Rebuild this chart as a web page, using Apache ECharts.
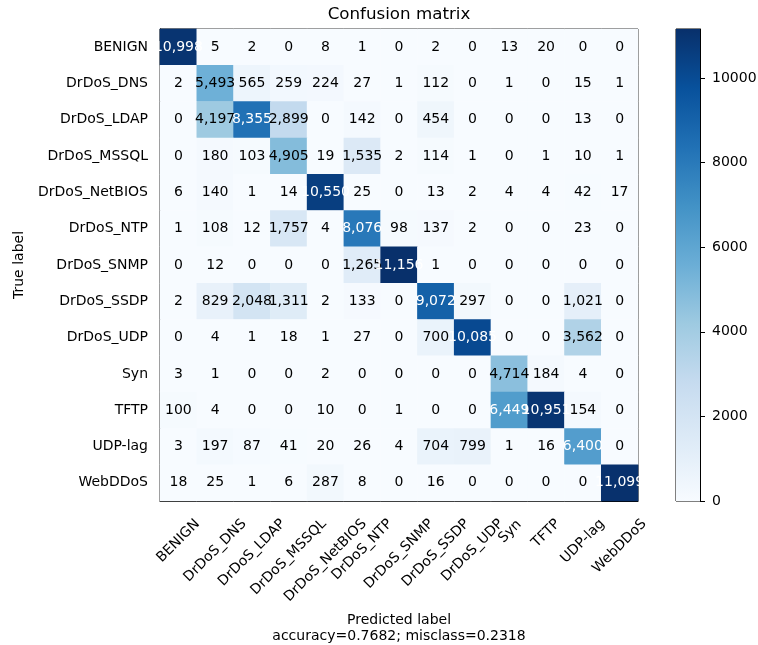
<!DOCTYPE html>
<html>
<head>
<meta charset="utf-8">
<script src="https://cdn.jsdelivr.net/npm/echarts@6.0.0/dist/echarts.min.js"></script>
<style>
    html, body {margin: 0; padding: 0; background: #fff;}
    #main {width: 758px; height: 645px;}
</style>
</head>
<body>
<div id="main"></div>
<script>
// class names (rows = true label, cols = predicted label)
var labels = ['BENIGN', 'DrDoS_DNS', 'DrDoS_LDAP', 'DrDoS_MSSQL', 'DrDoS_NetBIOS', 'DrDoS_NTP',
    'DrDoS_SNMP', 'DrDoS_SSDP', 'DrDoS_UDP', 'Syn', 'TFTP', 'UDP-lag', 'WebDDoS'];

// confusion matrix, one row per true label
var cm = [
    [10998, 5, 2, 0, 8, 1, 0, 2, 0, 13, 20, 0, 0],
    [2, 5493, 565, 259, 224, 27, 1, 112, 0, 1, 0, 15, 1],
    [0, 4197, 8355, 2899, 0, 142, 0, 454, 0, 0, 0, 13, 0],
    [0, 180, 103, 4905, 19, 1535, 2, 114, 1, 0, 1, 10, 1],
    [6, 140, 1, 14, 10550, 25, 0, 13, 2, 4, 4, 42, 17],
    [1, 108, 12, 1757, 4, 8076, 98, 137, 2, 0, 0, 23, 0],
    [0, 12, 0, 0, 0, 1265, 11156, 1, 0, 0, 0, 0, 0],
    [2, 829, 2048, 1311, 2, 133, 0, 9072, 297, 0, 0, 1021, 0],
    [0, 4, 1, 18, 1, 27, 0, 700, 10085, 0, 0, 3562, 0],
    [3, 1, 0, 0, 2, 0, 0, 0, 0, 4714, 184, 4, 0],
    [100, 4, 0, 0, 10, 0, 1, 0, 0, 6449, 10951, 154, 0],
    [3, 197, 87, 41, 20, 26, 4, 704, 799, 1, 16, 6400, 0],
    [18, 25, 1, 6, 287, 8, 0, 16, 0, 0, 0, 0, 11099]
];

var colorbarTicks = [0, 2000, 4000, 6000, 8000, 10000];
var accuracy = 0.7682;
var misclass = 0.2318;

// matplotlib Blues
var blues = ['#f7fbff', '#deebf7', '#c6dbef', '#9ecae1', '#6baed6', '#4292c6', '#2171b5', '#08519c', '#08306b'];
var font = 'DejaVu Sans';

var plotLeft = 160, plotTop = 29, plotW = 478, plotH = 472;

var vmax = 0;
for (var i = 0; i < cm.length; i++) {
    for (var j = 0; j < cm[i].length; j++) {
        if (cm[i][j] > vmax) vmax = cm[i][j];
    }
}
var thresh = vmax / 2;

function fmt(n) {
    return String(n).replace(/\B(?=(\d{3})+(?!\d))/g, ',');
}

function textWidth(s, size) {
    var ctx = document.createElement('canvas').getContext('2d');
    ctx.font = size + 'px "' + font + '"';
    return ctx.measureText(s).width;
}

// heatmap cells
var cells = [];
for (var r = 0; r < cm.length; r++) {
    for (var c = 0; c < cm[r].length; c++) {
        cells.push({
            value: [c, r, cm[r][c]],
            label: {color: cm[r][c] > thresh ? '#fff' : '#000'}
        });
    }
}

// x labels: rotated 45deg, bbox centred under the tick like matplotlib
// (anchor = axis + M, text shifted by padding so its centre lands at axis + P + H/2)
var P = 15, M = 20, lh = 16;
var xData = labels.map(function (name) {
    var w = textWidth(name, 14);
    var H = (w + lh) * 0.7071;
    var s = P + H / 2 - M;
    var pr = 1.4142 * s;
    var pt = Math.max(0, 0.7071 * s - lh / 2);
    return {
        value: name,
        textStyle: {align: 'center', verticalAlign: 'top', lineHeight: lh, padding: [pt, pr, 0, 0]}
    };
});

var title = 'Confusion matrix';
var titleW = textWidth(title, 16.7);

var chart = echarts.init(document.getElementById('main'));
var option = {
    animation: false,
    backgroundColor: '#fff',
    title: {
        text: title,
        left: plotLeft + plotW / 2 - titleW / 2,
        top: 6,
        padding: 0,
        textStyle: {fontFamily: font, fontSize: 16.7, fontWeight: 'normal', color: '#000'}
    },
    grid: [{
        left: plotLeft, top: plotTop, width: plotW, height: plotH,
        containLabel: false, outerBoundsMode: 'none',
        show: true, borderColor: '#000', borderWidth: 1, backgroundColor: 'transparent'
    }, {
        left: 676, top: plotTop, width: 24, height: plotH,
        containLabel: false, outerBoundsMode: 'none',
        show: true, borderColor: '#000', borderWidth: 1, backgroundColor: 'transparent'
    }],
    xAxis: [{
        gridIndex: 0,
        type: 'category',
        data: xData,
        position: 'bottom',
        name: 'Predicted label\naccuracy=' + accuracy.toFixed(4) + '; misclass=' + misclass.toFixed(4),
        nameLocation: 'middle',
        nameGap: 107,
        nameTextStyle: {fontFamily: font, fontSize: 14, color: '#000', lineHeight: 16},
        axisLine: {lineStyle: {color: '#000'}},
        axisTick: {alignWithLabel: true, length: 5, lineStyle: {color: '#000'}},
        axisLabel: {
            interval: 0, rotate: 45, align: 'center', verticalAlign: 'top', margin: M,
            fontFamily: font, fontSize: 14, color: '#000'
        },
        splitLine: {show: false}
    }, {
        gridIndex: 1,
        type: 'category',
        data: [''],
        show: false
    }],
    yAxis: [{
        gridIndex: 0,
        type: 'category',
        data: labels,
        inverse: true,
        name: 'True label',
        nameLocation: 'middle',
        nameGap: 134,
        nameTextStyle: {fontFamily: font, fontSize: 14, color: '#000'},
        axisLine: {lineStyle: {color: '#000'}},
        axisTick: {alignWithLabel: true, length: 5, lineStyle: {color: '#000'}},
        axisLabel: {interval: 0, margin: 12, fontFamily: font, fontSize: 14, color: '#000'},
        splitLine: {show: false}
    }, {
        gridIndex: 1,
        type: 'value',
        position: 'right',
        min: 0,
        max: vmax,
        interval: colorbarTicks[1] - colorbarTicks[0],
        axisLine: {show: true, lineStyle: {color: '#000'}},
        axisTick: {show: true, length: 5, lineStyle: {color: '#000'}},
        axisLabel: {
            margin: 12, showMaxLabel: false, fontFamily: font, fontSize: 14, color: '#000',
            formatter: function (v) { return colorbarTicks.indexOf(v) >= 0 ? String(v) : ''; }
        },
        splitLine: {show: false}
    }],
    visualMap: {
        show: false,
        type: 'continuous',
        seriesIndex: 0,
        min: 0,
        max: vmax,
        inRange: {color: blues}
    },
    series: [{
        type: 'heatmap',
        xAxisIndex: 0,
        yAxisIndex: 0,
        data: cells,
        silent: true,
        label: {
            show: true,
            fontFamily: font,
            fontSize: 14,
            formatter: function (p) { return fmt(p.value[2]); }
        }
    }, {
        // colorbar
        type: 'bar',
        xAxisIndex: 1,
        yAxisIndex: 1,
        data: [vmax],
        barWidth: '100%',
        silent: true,
        itemStyle: {
            color: {
                type: 'linear', x: 0, y: 1, x2: 0, y2: 0,
                colorStops: blues.map(function (col, k) {
                    return {offset: k / (blues.length - 1), color: col};
                })
            }
        }
    }]
};
chart.setOption(option);
</script>
</body>
</html>
